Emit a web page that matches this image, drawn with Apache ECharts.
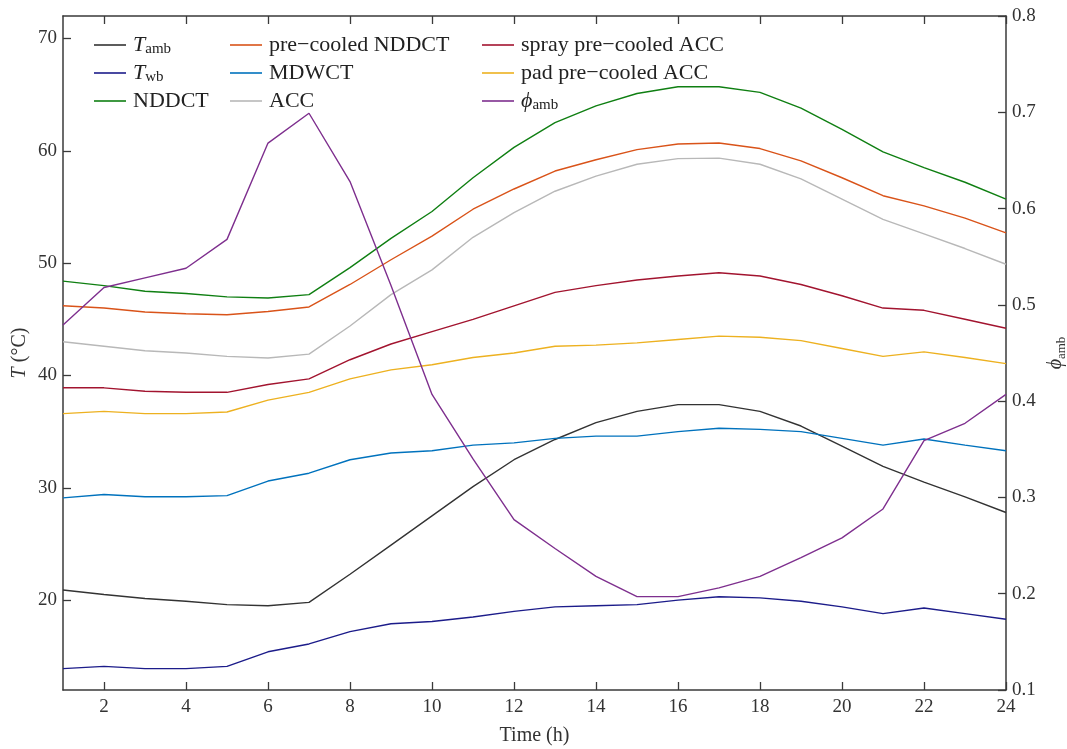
<!DOCTYPE html>
<html>
<head>
<meta charset="utf-8">
<script src="https://cdn.jsdelivr.net/npm/echarts@6/dist/echarts.min.js"></script>
<style>
  html, body { margin: 0; padding: 0; background: #fff; }
  #chart { width: 1067px; height: 749px; }
</style>
</head>
<body>
<div id="chart"></div>
<script>
var hours = [];
for (var i = 1; i <= 24; i++) hours.push(i);

var xTicks = [2, 4, 6, 8, 10, 12, 14, 16, 18, 20, 22, 24];
var tTicks = [20, 30, 40, 50, 60, 70];

var tAmb = [20.9, 20.5, 20.15, 19.9, 19.6, 19.5, 19.8, 22.3, 24.9, 27.5, 30.1, 32.5, 34.3, 35.8, 36.8, 37.4, 37.4, 36.8, 35.5, 33.7, 31.9, 30.5, 29.2, 27.8];
var tWb = [13.9, 14.1, 13.9, 13.9, 14.1, 15.4, 16.1, 17.2, 17.9, 18.1, 18.5, 19.0, 19.4, 19.5, 19.6, 20.0, 20.3, 20.2, 19.9, 19.4, 18.8, 19.3, 18.8, 18.3];
var nddct = [48.4, 48.0, 47.5, 47.3, 47.0, 46.9, 47.2, 49.6, 52.2, 54.6, 57.6, 60.3, 62.5, 64.0, 65.1, 65.7, 65.7, 65.2, 63.8, 61.9, 59.9, 58.5, 57.2, 55.7];
var preNddct = [46.2, 46.0, 45.65, 45.5, 45.4, 45.7, 46.1, 48.1, 50.3, 52.4, 54.8, 56.6, 58.2, 59.2, 60.1, 60.6, 60.7, 60.2, 59.1, 57.6, 56.0, 55.1, 54.0, 52.7];
var mdwct = [29.1, 29.4, 29.2, 29.2, 29.3, 30.6, 31.3, 32.5, 33.1, 33.3, 33.8, 34.0, 34.4, 34.6, 34.6, 35.0, 35.3, 35.2, 35.0, 34.4, 33.8, 34.35, 33.8, 33.3];
var acc = [43.0, 42.6, 42.2, 42.0, 41.7, 41.55, 41.9, 44.4, 47.2, 49.4, 52.3, 54.5, 56.4, 57.75, 58.8, 59.3, 59.35, 58.8, 57.5, 55.7, 53.9, 52.6, 51.3, 49.9];
var sprayAcc = [38.9, 38.9, 38.6, 38.5, 38.5, 39.2, 39.7, 41.4, 42.8, 43.9, 45.0, 46.2, 47.4, 48.0, 48.5, 48.85, 49.15, 48.85, 48.1, 47.1, 46.0, 45.8, 45.0, 44.2];
var padAcc = [36.6, 36.8, 36.6, 36.6, 36.75, 37.8, 38.5, 39.7, 40.5, 40.95, 41.6, 42.0, 42.6, 42.7, 42.9, 43.2, 43.5, 43.4, 43.1, 42.4, 41.7, 42.1, 41.6, 41.05];
var phiAmb = [0.479, 0.518, 0.528, 0.538, 0.568, 0.668, 0.699, 0.628, 0.52, 0.407, 0.34, 0.277, 0.247, 0.218, 0.197, 0.197, 0.206, 0.218, 0.2375, 0.258, 0.288, 0.359, 0.377, 0.407];

var FONT = '"Liberation Serif", "DejaVu Serif", serif';
var AXIS = '#3a3a3a';

function pairs(vals) {
  return hours.map(function (h, i) { return [h, vals[i]]; });
}

// legend text (rich) for each series name
var labels = {
  'T_amb': '{i|T}{s|amb}',
  'T_wb': '{i|T}{s|wb}',
  'NDDCT': 'NDDCT',
  'pre-cooled NDDCT': 'pre\u2212cooled NDDCT',
  'MDWCT': 'MDWCT',
  'ACC': 'ACC',
  'spray pre-cooled ACC': 'spray pre\u2212cooled ACC',
  'pad pre-cooled ACC': 'pad pre\u2212cooled ACC',
  'phi_amb': '{i|\u03d5}{s|amb}'
};

var rich = {
  i: { fontFamily: FONT, fontStyle: 'italic', fontSize: 22, lineHeight: 24, color: '#222' },
  s: { fontFamily: FONT, fontSize: 15, lineHeight: 15, verticalAlign: 'bottom', color: '#222' }
};

function legendCol(left, names) {
  return {
    orient: 'vertical',
    left: left,
    top: 33,
    padding: 0,
    icon: 'rect',
    itemWidth: 32,
    itemHeight: 1.6,
    itemGap: 4,
    data: names,
    formatter: function (n) { return labels[n]; },
    textStyle: { fontFamily: FONT, fontSize: 22, lineHeight: 24, color: '#222', padding: [0, 0, 0, 2], rich: rich }
  };
}

function line(name, vals, color, yIdx) {
  return {
    name: name,
    type: 'line',
    xAxisIndex: 0,
    yAxisIndex: yIdx || 0,
    data: pairs(vals),
    symbol: 'none',
    lineStyle: { color: color, width: 1.4 },
    itemStyle: { color: color },
    animation: false
  };
}

var chart = echarts.init(document.getElementById('chart'));
chart.setOption({
  backgroundColor: '#fff',
  grid: { left: 63, right: 61, top: 16, bottom: 59, outerBoundsMode: 'none', containLabel: false },
  legend: [
    legendCol(94, ['T_amb', 'T_wb', 'NDDCT']),
    legendCol(230, ['pre-cooled NDDCT', 'MDWCT', 'ACC']),
    legendCol(482, ['spray pre-cooled ACC', 'pad pre-cooled ACC', 'phi_amb'])
  ],
  xAxis: [{
    type: 'value',
    min: 1,
    max: 24,
    name: 'Time (h)',
    nameLocation: 'middle',
    nameGap: 36,
    nameTextStyle: { fontFamily: FONT, fontSize: 20, color: '#333' },
    axisLine: { lineStyle: { color: AXIS, width: 1.5 } },
    axisTick: { inside: true, length: 8, customValues: xTicks, lineStyle: { color: AXIS, width: 1.3 } },
    axisLabel: { customValues: xTicks, fontFamily: FONT, fontSize: 19, color: '#333', margin: 8 },
    splitLine: { show: false }
  }, {
    type: 'value',
    position: 'top',
    min: 1,
    max: 24,
    axisLine: { lineStyle: { color: AXIS, width: 1.5 } },
    axisTick: { inside: true, length: 8, customValues: xTicks, lineStyle: { color: AXIS, width: 1.3 } },
    axisLabel: { show: false },
    splitLine: { show: false }
  }],
  yAxis: [{
    type: 'value',
    min: 12,
    max: 72,
    name: '{i|T} (\u00b0C)',
    nameLocation: 'middle',
    nameMoveOverlap: false,
    nameGap: 33,
    nameTextStyle: {
      fontFamily: FONT, fontSize: 20, color: '#333',
      rich: { i: { fontFamily: FONT, fontStyle: 'italic', fontSize: 20, color: '#333' } }
    },
    axisLine: { lineStyle: { color: AXIS, width: 1.5 } },
    axisTick: { inside: true, length: 8, customValues: tTicks, lineStyle: { color: AXIS, width: 1.3 } },
    axisLabel: { customValues: tTicks, fontFamily: FONT, fontSize: 19, color: '#333', margin: 6 },
    splitLine: { show: false }
  }, {
    type: 'value',
    position: 'right',
    min: 0.1,
    max: 0.8,
    interval: 0.1,
    name: '{i|\u03d5}{s|amb}',
    nameLocation: 'middle',
    nameMoveOverlap: false,
    nameGap: 38,
    nameTextStyle: {
      fontFamily: FONT, fontSize: 20, color: '#333',
      rich: {
        i: { fontFamily: FONT, fontStyle: 'italic', fontSize: 20, lineHeight: 24, color: '#333' },
        s: { fontFamily: FONT, fontSize: 13, lineHeight: 13, verticalAlign: 'bottom', color: '#333' }
      }
    },
    axisLine: { lineStyle: { color: AXIS, width: 1.5 } },
    axisTick: { inside: true, length: 8, lineStyle: { color: AXIS, width: 1.3 } },
    axisLabel: {
      fontFamily: FONT, fontSize: 19, color: '#333', margin: 6,
      formatter: function (v) { return v.toFixed(1); }
    },
    splitLine: { show: false }
  }],
  series: [
    line('T_amb', tAmb, '#333333'),
    line('T_wb', tWb, '#1c1c8a'),
    line('NDDCT', nddct, '#0f7f12'),
    line('pre-cooled NDDCT', preNddct, '#D95319'),
    line('MDWCT', mdwct, '#0072BD'),
    line('ACC', acc, '#b8b8b8'),
    line('spray pre-cooled ACC', sprayAcc, '#A2142F'),
    line('pad pre-cooled ACC', padAcc, '#EDB120'),
    line('phi_amb', phiAmb, '#7E2F8E', 1)
  ]
});
</script>
</body>
</html>
